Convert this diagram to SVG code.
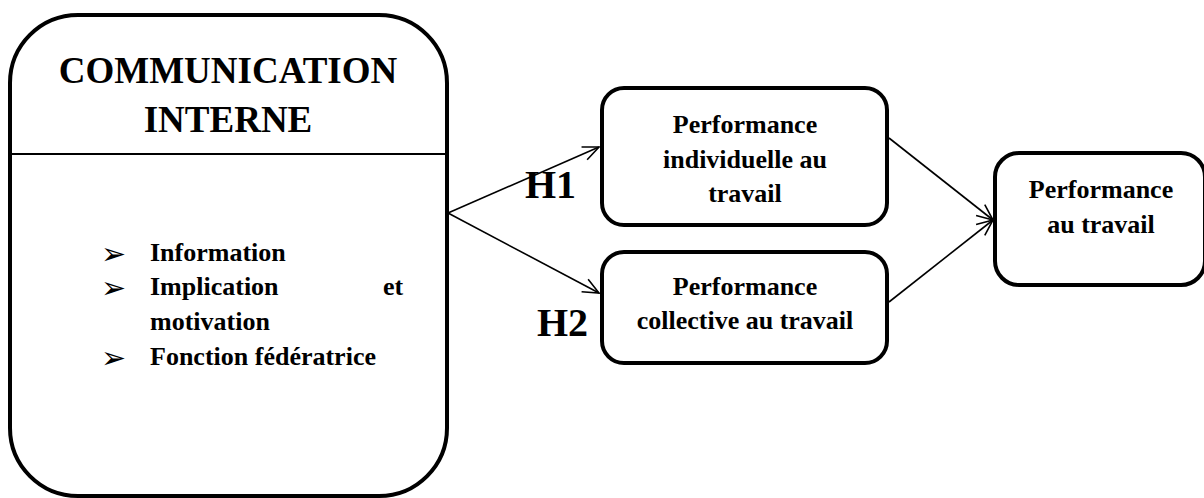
<svg xmlns="http://www.w3.org/2000/svg" width="1204" height="498" viewBox="0 0 1204 498">
<defs>
<style>
.box{fill:#fff;stroke:#000;stroke-width:4}
.t{font-family:"Liberation Serif","Times New Roman",serif;font-weight:bold;fill:#000}
.c{text-anchor:middle}
.ln{stroke:#000;stroke-width:1.6;fill:none}
.bul{font-family:"DejaVu Sans",sans-serif;font-size:30px;fill:#000}
</style>
<marker id="ah" viewBox="0 0 20 20" refX="18" refY="10" markerWidth="20" markerHeight="20" markerUnits="userSpaceOnUse" orient="auto">
<path d="M2,3 L18,10 L2,17" fill="none" stroke="#000" stroke-width="1.6"/>
</marker>
</defs>
<rect width="1204" height="498" fill="#fff"/>
<g id="connectors">
<line class="ln" x1="448" y1="213" x2="599" y2="147" marker-end="url(#ah)"/>
<line class="ln" x1="448" y1="213" x2="599" y2="293" marker-end="url(#ah)"/>
<line class="ln" x1="889" y1="138" x2="993" y2="220" marker-end="url(#ah)"/>
<line class="ln" x1="889" y1="302" x2="993" y2="220" marker-end="url(#ah)"/>
<text class="t" x="525" y="198" font-size="40">H1</text>
<text class="t" x="537" y="336" font-size="40">H2</text>
</g>
<g id="communication-interne">
<rect class="box" x="10" y="15" width="437" height="481" rx="68" ry="68"/>
<line x1="10" y1="154" x2="447" y2="154" stroke="#000" stroke-width="2"/>
<text class="t c" x="228" y="83" font-size="37">COMMUNICATION</text>
<text class="t c" x="228" y="132" font-size="37">INTERNE</text>
<text class="bul" x="101" y="264">➢</text>
<text class="t" x="150" y="261" font-size="26">Information</text>
<text class="bul" x="101" y="298">➢</text>
<text class="t" x="150" y="295" font-size="26">Implication</text>
<text class="t" x="383" y="295" font-size="26">et</text>
<text class="t" x="150" y="330" font-size="26">motivation</text>
<text class="bul" x="101" y="368">➢</text>
<text class="t" x="150" y="365" font-size="26">Fonction fédératrice</text>
</g>
<g id="perf-individuelle">
<rect class="box" x="602" y="88" width="285" height="137" rx="22" ry="22"/>
<text class="t c" x="745" y="133" font-size="26">Performance</text>
<text class="t c" x="745" y="168" font-size="26">individuelle au</text>
<text class="t c" x="745" y="202" font-size="26">travail</text>
</g>
<g id="perf-collective">
<rect class="box" x="602" y="252" width="285" height="111" rx="22" ry="22"/>
<text class="t c" x="745" y="295" font-size="26">Performance</text>
<text class="t c" x="745" y="329" font-size="26">collective au travail</text>
</g>
<g id="perf-travail">
<rect class="box" x="995" y="153" width="210" height="132" rx="24" ry="24"/>
<text class="t c" x="1101" y="198" font-size="26">Performance</text>
<text class="t c" x="1101" y="233" font-size="26">au travail</text>
</g>
</svg>
